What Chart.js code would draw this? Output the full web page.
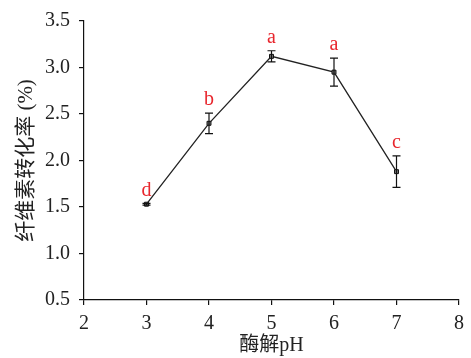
<!DOCTYPE html>
<html>
<head>
<meta charset="utf-8">
<script src="https://cdn.jsdelivr.net/npm/chart.js@4"></script>
<style>
  body { margin: 0; background: #fff; }
  #wrap { width: 471px; height: 358px; }
</style>
</head>
<body>
<div id="wrap"><canvas id="myChart"></canvas></div>
<script>
"use strict";

// pH-värden och omvandling
const phValues = [3, 4, 5, 6, 7];
const conversion = [1.53, 2.40, 3.12, 2.95, 1.88];
const errors = [0.01, 0.11, 0.06, 0.15, 0.17];
const letters = ["d", "b", "a", "a", "c"];
const xTicks = [2, 3, 4, 5, 6, 7, 8];
const yTicks = [0.5, 1.0, 1.5, 2.0, 2.5, 3.0, 3.5];

const serif = "'Liberation Serif', 'Noto Sans CJK SC', serif";

// felstaplar + bokstäver ritas efter linjen
const errorBars = {
  id: "errorBars",
  afterDatasetsDraw(chart) {
    const ctx = chart.ctx;
    const xs = chart.scales.x;
    const ys = chart.scales.y;
    ctx.save();
    ctx.strokeStyle = "#111";
    ctx.lineWidth = 1.2;
    phValues.forEach((ph, i) => {
      const px = xs.getPixelForValue(ph);
      const top = ys.getPixelForValue(conversion[i] + errors[i]);
      const bot = ys.getPixelForValue(conversion[i] - errors[i]);
      ctx.beginPath();
      ctx.moveTo(px, top); ctx.lineTo(px, bot);
      ctx.moveTo(px - 4, top); ctx.lineTo(px + 4, top);
      ctx.moveTo(px - 4, bot); ctx.lineTo(px + 4, bot);
      ctx.stroke();
      ctx.fillStyle = "#e8262d";
      ctx.font = "20px " + serif;
      ctx.textAlign = "center";
      ctx.textBaseline = "bottom";
      ctx.fillText(letters[i], px, top - 3);
    });
    ctx.restore();
  }
};

const ctx = document.getElementById("myChart");

new Chart(ctx, {
  type: "line",
  data: {
    datasets: [{
      data: phValues.map((ph, i) => ({ x: ph, y: conversion[i] })),
      borderColor: "#222",
      borderWidth: 1.3,
      pointStyle: "rect",
      pointRadius: 2.8,
      pointBackgroundColor: "#777",
      pointBorderColor: "#111",
      pointBorderWidth: 1,
      tension: 0
    }]
  },
  options: {
    responsive: true,
    maintainAspectRatio: false,
    animation: false,
    layout: { padding: { top: 20, right: 9, left: 0, bottom: 0 } },
    plugins: { legend: { display: false }, tooltip: { enabled: false } },
    scales: {
      x: {
        type: "linear",
        min: 2, max: 8,
        afterFit: (s) => { s.height = 58; },
        afterBuildTicks: (s) => { s.ticks = xTicks.map(v => ({ value: v })); },
        grid: { drawOnChartArea: false, tickLength: 5, color: "#111", lineWidth: 1.2 },
        border: { color: "#111", width: 1.2 },
        ticks: { color: "#222", padding: 7, font: { family: serif, size: 20 } },
        title: {
          display: true, text: "酶解pH", color: "#222",
          font: { family: serif, size: 20 }, padding: { top: 3, bottom: 0 }
        }
      },
      y: {
        min: 0.5, max: 3.5,
        afterFit: (s) => { s.width = 84; },
        afterBuildTicks: (s) => { s.ticks = yTicks.map(v => ({ value: v })); },
        grid: { drawOnChartArea: false, tickLength: 5, color: "#111", lineWidth: 1.2 },
        border: { color: "#111", width: 1.2 },
        ticks: {
          color: "#222", padding: 9, font: { family: serif, size: 20 },
          callback: (v) => Number(v).toFixed(1)
        },
        title: {
          display: true, text: "纤维素转化率 (%)", color: "#222",
          font: { family: serif, size: 21 }, padding: { top: 14, bottom: 4 }
        }
      }
    }
  },
  plugins: [errorBars]
});
</script>
</body>
</html>
